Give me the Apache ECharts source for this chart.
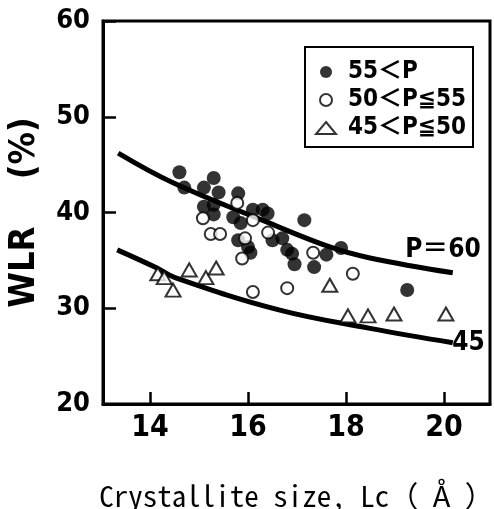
<!DOCTYPE html>
<html>
<head>
<meta charset="utf-8">
<script src="https://cdn.jsdelivr.net/npm/echarts@6/dist/echarts.min.js"></script>
<style>
html,body{margin:0;padding:0;background:#fff;}
#chart{width:494px;height:509px;}
</style>
</head>
<body>
<div id="chart"></div>
<script>
// ---- data ----
const seriesNames = ['55＜P', '50＜P≦55', '45＜P≦50'];
const filledPts = [
  [14.6,44.2],[14.7,42.6],[15.3,43.6],[15.1,42.6],[15.4,42.1],[15.1,40.6],[15.3,40.8],
  [15.3,39.8],[15.8,42.0],[15.7,39.5],[15.85,38.9],[16.1,40.3],[16.3,40.3],[16.4,39.9],
  [17.15,39.2],[15.8,37.1],[16.0,36.4],[16.05,35.8],[16.5,37.1],[16.7,37.3],[16.8,36.1],
  [16.9,35.7],[16.95,34.6],[17.35,34.3],[17.6,35.6],[17.9,36.3],[19.25,31.9]
];
const openPts = [
  [15.08,39.4],[15.24,37.75],[15.43,37.75],[15.78,41.0],[16.1,39.2],[15.94,37.3],
  [15.88,35.2],[16.41,37.9],[17.33,35.8],[18.14,33.6],[16.8,32.1],[16.1,31.7]
];
const trianglePts = [
  [14.16,33.6],[14.29,33.2],[14.47,31.9],[14.8,34.0],[15.14,33.2],[15.35,34.2],
  [17.67,32.4],[18.04,29.2],[18.45,29.2],[18.98,29.4],[20.04,29.4]
];
const curve60 = [[13.35,46.2],[14.47,43.1],[16.29,39.2],[17.67,36.4],[18.49,35.25],[20.18,33.7]];
const curve45 = [[13.33,36.1],[14.1,34.3],[14.51,33.2],[16.65,29.8],[18.49,27.9],[20.18,26.4]];
const curveLabels = ['P＝60', '45'];
const curveLabelPos = [[19.98,36.1],[20.5,26.3]];
const yTicks = [20,30,40,50,60];
const xTicks = [14,16,18,20];

const cond = '"DejaVu Sans","Noto Sans CJK JP",sans-serif';
const condW = 'bold semi-condensed';

const chart = echarts.init(document.getElementById('chart'), null, {renderer:'canvas'});
const lineStyle = {color:'#000', width:5};
function curveSeries(data, label, pos){
  return {
    type:'line', data:data, smooth:0.4, showSymbol:false, symbol:'none',
    lineStyle:lineStyle, z:1, silent:true, legendHoverLink:false,
    markPoint:{
      symbol:'circle', symbolSize:0, silent:true,
      data:[{coord:pos, value:label}],
      label:{show:true, position:'inside', formatter:label, color:'#000',
        fontFamily:cond, fontWeight:condW, fontSize:26}
    }
  };
}
chart.setOption({
  backgroundColor:'#fff',
  animation:false,
  grid:{left:103, right:4, top:21, bottom:105, show:true, borderColor:'#000', borderWidth:3,
    containLabel:false, outerBoundsMode:'none'},
  legend:{
    orient:'vertical', left:305, top:47,
    data:seriesNames,
    itemWidth:20, itemHeight:12, itemGap:4,
    padding:[13,7,7,10],
    borderColor:'#000', borderWidth:2, backgroundColor:'#fff',
    textStyle:{fontFamily:cond, fontWeight:condW, fontSize:24, color:'#000', padding:[0,0,0,7]}
  },
  xAxis:{
    type:'value', min:13.04, max:20.94, splitNumber:4,
    axisLine:{lineStyle:{color:'#000', width:3}},
    axisTick:{inside:true, length:12, lineStyle:{color:'#000', width:2.5}},
    splitLine:{show:false},
    axisLabel:{showMinLabel:false, showMaxLabel:false, margin:9, color:'#000',
      fontFamily:cond, fontWeight:condW, fontSize:30,
      formatter:v => xTicks.includes(v) ? String(v) : ''},
    name:'Crystallite size, Lc（ Å ）', nameLocation:'middle', nameGap:77,
    nameTextStyle:{fontFamily:'"Noto Sans Mono CJK JP","DejaVu Sans Mono",monospace', fontSize:29, color:'#000'}
  },
  yAxis:{
    type:'value', min:20, max:60, interval:10,
    axisLine:{lineStyle:{color:'#000', width:3}},
    axisTick:{inside:true, length:13, lineStyle:{color:'#000', width:2.5}},
    splitLine:{show:false},
    axisLabel:{margin:13, color:'#000', fontFamily:cond, fontWeight:condW, fontSize:27,
      formatter:v => yTicks.includes(v) ? String(v) : ''},
    name:'WLR\u3000 (%)', nameLocation:'middle', nameGap:60, nameRotate:90,
    nameTextStyle:{fontFamily:cond, fontWeight:condW, fontSize:36, color:'#000'}
  },
  series:[
    curveSeries(curve60, curveLabels[0], curveLabelPos[0]),
    curveSeries(curve45, curveLabels[1], curveLabelPos[1]),
    {name:seriesNames[0], type:'scatter', data:filledPts, symbol:'circle', symbolSize:14, z:3,
      itemStyle:{color:'#000', borderColor:'#000', borderWidth:0}},
    {name:seriesNames[1], type:'scatter', data:openPts, symbol:'circle', symbolSize:12, z:3,
      itemStyle:{color:'#fff', borderColor:'#000', borderWidth:2}},
    {name:seriesNames[2], type:'scatter', data:trianglePts, symbol:'triangle', symbolSize:[15,13], z:3,
      itemStyle:{color:'#fff', borderColor:'#000', borderWidth:2}}
  ]
});
</script>
</body>
</html>
